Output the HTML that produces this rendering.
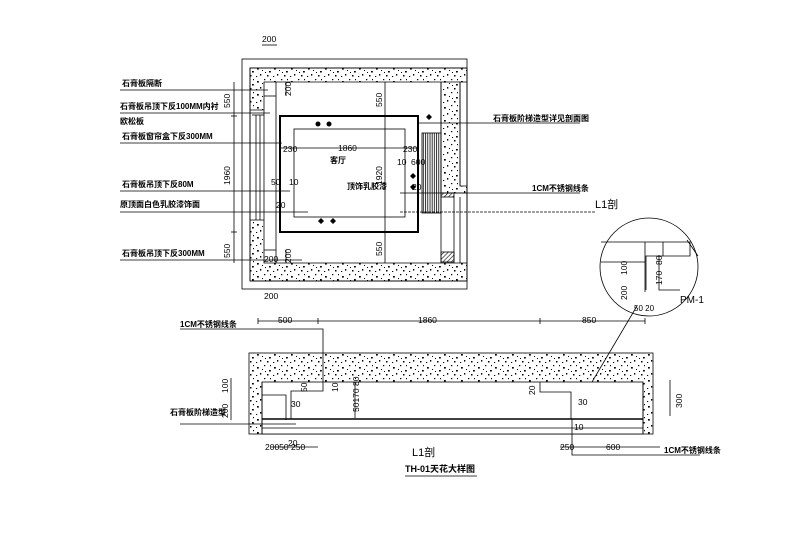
<!DOCTYPE html>
<html><head><meta charset="utf-8"><style>
html,body{margin:0;padding:0;background:#fff}
svg{display:block}
text{font-family:"Liberation Sans","Noto Sans CJK SC",sans-serif;fill:#000}
.c{font-family:"Liberation Serif","Noto Serif CJK SC",serif;font-size:8px;font-weight:bold}
.d{font-size:8.5px}
</style></head><body>
<svg id="s" width="800" height="533" viewBox="0 0 800 533" xmlns="http://www.w3.org/2000/svg">
<defs>
<pattern id="sp" width="17" height="13" patternUnits="userSpaceOnUse">
<rect x="2" y="3" width="1.8" height="1.6"/><rect x="9" y="1" width="1.3" height="1.2"/><rect x="14" y="6" width="1.8" height="1.5"/><rect x="5" y="9" width="1.3" height="1.6"/><rect x="12" y="10" width="1.5" height="1.5"/><rect x="7" y="5" width="1" height="1"/><rect x="15" y="1" width="1" height="1.2"/><rect x="1" y="11" width="1.2" height="1"/><rect x="10" y="7" width="1" height="1"/>
</pattern>
<pattern id="vh" width="2.2" height="4" patternUnits="userSpaceOnUse"><line x1="1" y1="0" x2="1" y2="4" stroke="#000" stroke-width="0.8"/></pattern>
<pattern id="dh" width="3" height="3" patternUnits="userSpaceOnUse" patternTransform="rotate(45)"><line x1="0" y1="0" x2="0" y2="3" stroke="#000" stroke-width="1.2"/></pattern>
</defs>
<g stroke="#000" stroke-width="0.8" fill="none">
<text x="262" y="42" class="d" stroke="none">200</text><line x1="262" y1="45" x2="277" y2="45"/>
<rect x="242" y="59" width="225" height="230"/>
<path d="M250 68H467V82H264V110H250Z M250 220H264V263H467V281H250Z M441 82H460V186H467V193H441Z" fill="url(#sp)"/>
<path d="M250 68H467V281H250Z" />
<line x1="460" y1="82" x2="460" y2="186"/>
<line x1="250" y1="110" x2="250" y2="220"/><line x1="264" y1="110" x2="264" y2="220"/>
<line x1="256" y1="115" x2="256" y2="220"/><line x1="260" y1="115" x2="260" y2="220"/><line x1="252" y1="115" x2="264" y2="115"/>
<line x1="276" y1="82" x2="276" y2="263"/><line x1="264" y1="96" x2="276" y2="96"/><line x1="264" y1="250" x2="276" y2="250"/>
<line x1="441" y1="82" x2="441" y2="263"/>
<rect x="441" y="193" width="13" height="4" fill="url(#dh)"/><rect x="441" y="252" width="13" height="10" fill="url(#dh)"/>
<line x1="454" y1="197" x2="454" y2="263"/><line x1="460" y1="197" x2="460" y2="263"/>
<rect x="422" y="133" width="19" height="80" fill="url(#vh)"/>
<rect x="280" y="116" width="138" height="116" stroke-width="2"/>
<rect x="294" y="129" width="111" height="88"/>
<line x1="385" y1="82" x2="385" y2="263"/>
<line x1="280" y1="148" x2="418" y2="148"/>
<line x1="234" y1="82" x2="234" y2="263"/>
<line x1="231" y1="116" x2="237" y2="116"/><line x1="231" y1="232" x2="237" y2="232"/>
<line x1="286" y1="82" x2="286" y2="96"/><line x1="286" y1="250" x2="286" y2="263"/>
<path d="M120 90H268M120 113H270M120 143H282M120 191H290M120 212H308M120 260H302"/>
<path d="M418 123H580M400 193H580"/>
<path d="M400 212H596" stroke-dasharray="3 1"/>
<circle cx="649" cy="267" r="49"/>
<path d="M601 242H690V256H646V290M601 262H645M659 255V290H680M645 242V292M663 242V256"/>
<line x1="687" y1="240" x2="698" y2="256"/>
<line x1="637" y1="306" x2="592" y2="382"/>
<line x1="258" y1="321" x2="645" y2="321"/>
<path d="M318 318V324M540 318V324M258 318V324M645 318V324"/>
<rect x="249" y="353" width="404" height="81" fill="url(#sp)"/>
<rect x="262" y="382" width="381" height="52" fill="#fff"/>
<path d="M262 382V434M643 382V434M262 428H643"/>
<path d="M323 382V391H291V419M262 395H286V420" />
<path d="M540 382V392H571V419"/>
<line x1="262" y1="419" x2="643" y2="419" stroke-width="1.5"/>
<path d="M180 329H323V382M180 424H296M572 419V455H700"/>
<path d="M231 378V420M670 380V416M355 382V418M271 447H318M560 447H585M585 447H660"/>
<line x1="405" y1="476" x2="477" y2="476"/>
</g>
<g fill="#000">
<circle cx="318" cy="124" r="2.5"/><circle cx="329" cy="124" r="2.5"/>
<path d="M318 221l3 -3 3 3 -3 3z M330 221l3 -3 3 3 -3 3z M426 117l3 -3 3 3 -3 3z M410 176l3 -3 3 3 -3 3z M410 187l3 -3 3 3 -3 3z"/>
</g>
<g class="c">
<text x="122" y="86">石膏板隔断</text>
<text x="120" y="109">石膏板吊顶下反100MM内衬</text>
<text x="120" y="124">欧松板</text>
<text x="122" y="139">石膏板窗帘盒下反300MM</text>
<text x="122" y="187">石膏板吊顶下反80M</text>
<text x="120" y="207">原顶面白色乳胶漆饰面</text>
<text x="122" y="256">石膏板吊顶下反300MM</text>
<text x="493" y="121">石膏板阶梯造型详见剖面图</text>
<text x="532" y="191">1CM不锈钢线条</text>
<text x="595" y="208" font-size="11" font-weight="normal">L1剖</text>
<text x="680" y="303" font-size="10" font-weight="normal">PM-1</text>
<text x="330" y="163">客厅</text>
<text x="347" y="189">顶饰乳胶漆</text>
<text x="180" y="327">1CM不锈钢线条</text>
<text x="170" y="415">石膏板阶梯造型</text>
<text x="664" y="453">1CM不锈钢线条</text>
<text x="412" y="456" font-size="11" font-weight="normal">L1剖</text>
</g>
<g class="d">
<text x="283" y="152">230</text><text x="338" y="151">1860</text><text x="403" y="152">230</text>
<text x="271" y="185">50</text><text x="289" y="185">10</text><text x="276" y="208">20</text>
<text x="397" y="165">10</text><text x="411" y="165">600</text><text x="412" y="190">20</text>
<text x="264" y="262">200</text><text x="264" y="299">200</text>
<text x="278" y="323">500</text><text x="418" y="323">1860</text><text x="582" y="323">850</text>
<text x="265" y="450">20050 250</text><text x="560" y="450">250</text><text x="606" y="450">600</text>
<text x="288" y="446">20</text><text x="574" y="430">10</text><text x="578" y="405">30</text><text x="291" y="407">30</text>
<text x="634" y="311" font-size="8">50 20</text>
<text transform="translate(230 108) rotate(-90)">550</text>
<text transform="translate(230 185) rotate(-90)">1960</text>
<text transform="translate(230 258) rotate(-90)">550</text>
<text transform="translate(382 107) rotate(-90)">550</text>
<text transform="translate(382 185) rotate(-90)">1920</text>
<text transform="translate(382 256) rotate(-90)">550</text>
<text transform="translate(291 96) rotate(-90)">200</text>
<text transform="translate(291 263) rotate(-90)">200</text>
<text transform="translate(228 393) rotate(-90)">100</text>
<text transform="translate(228 418) rotate(-90)">200</text>
<text transform="translate(682 408) rotate(-90)">300</text>
<text transform="translate(359 412) rotate(-90)">50170 80</text>
<text transform="translate(307 392) rotate(-90)">50</text>
<text transform="translate(338 392) rotate(-90)">10</text>
<text transform="translate(535 395) rotate(-90)">20</text>
<text transform="translate(627 275) rotate(-90)">100</text>
<text transform="translate(627 300) rotate(-90)">200</text>
<text transform="translate(662 265) rotate(-90)">80</text>
<text transform="translate(662 285) rotate(-90)">170</text>
</g>
<text x="405" y="472" font-size="9" font-weight="bold">TH-01天花大样图</text>
</svg>
</body></html>
